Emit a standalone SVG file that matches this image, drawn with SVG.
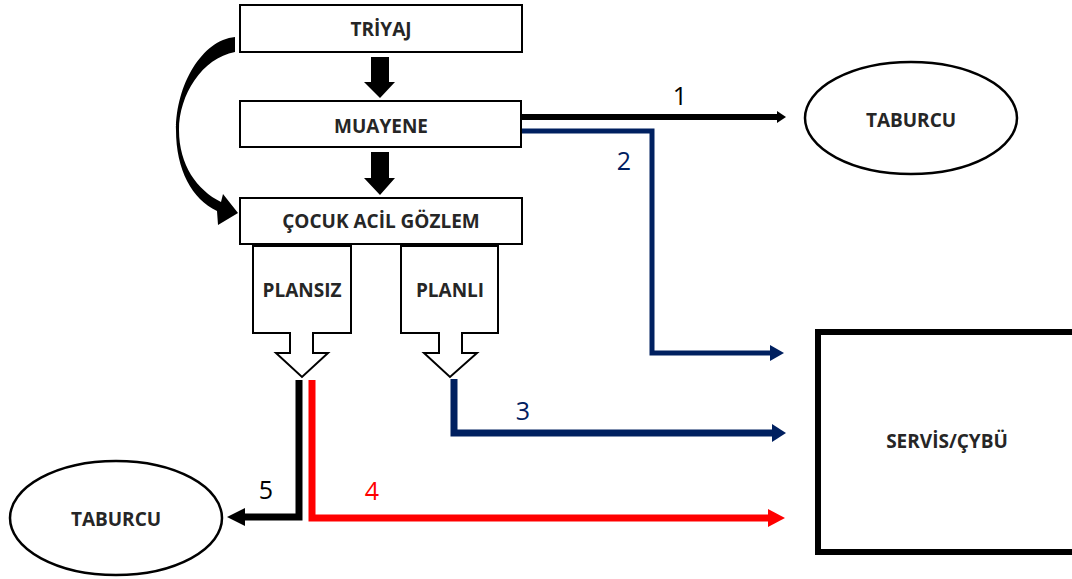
<svg xmlns="http://www.w3.org/2000/svg" width="1072" height="579" viewBox="0 0 1072 579">
  <style>
    .box { fill: #ffffff; stroke: #000000; stroke-width: 2; }
    .oval { fill: #ffffff; stroke: #000000; stroke-width: 2.5; }
    .label { font-family: "Open Sans", "Liberation Sans", sans-serif; font-weight: bold; font-size: 19px; fill: #262626; text-anchor: middle; }
    .num { font-family: "Open Sans", "Liberation Sans", sans-serif; font-size: 25px; text-anchor: middle; }
    .line { fill: none; stroke-linejoin: miter; }
  </style>
  <defs>
    <marker id="headBlack" markerUnits="userSpaceOnUse" markerWidth="20" markerHeight="20" refX="0" refY="9" orient="auto">
      <path d="M0,0 L18,9 L0,18 Z" fill="#000000"/>
    </marker>
    <marker id="headBlackSmall" markerUnits="userSpaceOnUse" markerWidth="12" markerHeight="14" refX="0" refY="6" orient="auto">
      <path d="M0,0 L9,6 L0,12 Z" fill="#000000"/>
    </marker>
    <marker id="headNavy" markerUnits="userSpaceOnUse" markerWidth="20" markerHeight="20" refX="0" refY="9" orient="auto">
      <path d="M0,0 L14,9 L0,18 Z" fill="#002060"/>
    </marker>
    <marker id="headNavySmall" markerUnits="userSpaceOnUse" markerWidth="20" markerHeight="20" refX="0" refY="8" orient="auto">
      <path d="M0,0 L14,8 L0,16 Z" fill="#002060"/>
    </marker>
    <marker id="headRed" markerUnits="userSpaceOnUse" markerWidth="20" markerHeight="20" refX="0" refY="9" orient="auto">
      <path d="M0,0 L17,9 L0,18 Z" fill="#ff0000"/>
    </marker>
  </defs>

  <!-- connectors -->
  <g id="connectors">
    <!-- block arrows down the main column -->
    <path d="M371,57 H389 V82 H395 L380,98 L364,82 H371 Z" fill="#000000"/>
    <path d="M371,152 H389 V178 H395 L380,195 L364,178 H371 Z" fill="#000000"/>
    <!-- curved bypass arrow from triage to observation -->
    <path d="M235,37 C202,40 176,85 176,130 C176,170 192,199 217,211 L218,225 L238,213 L223,194 L221,202 C197,190 179,165 179,130 C179,95 202,58 235,52 Z" fill="#000000"/>
    <!-- 1: examination to discharge -->
    <path class="line" d="M521,117 H777" stroke="#000000" stroke-width="6" marker-end="url(#headBlackSmall)"/>
    <!-- 2: examination to ward / PICU -->
    <path class="line" d="M521,131 H652 V353 H770" stroke="#002060" stroke-width="5" marker-end="url(#headNavySmall)"/>
    <!-- 3: planned observation to ward / PICU -->
    <path class="line" d="M454,379 V433 H772" stroke="#002060" stroke-width="7" marker-end="url(#headNavy)"/>
    <!-- 4: unplanned observation to ward / PICU -->
    <path class="line" d="M312,380 V518 H768" stroke="#ff0000" stroke-width="7" marker-end="url(#headRed)"/>
    <!-- 5: unplanned observation to discharge -->
    <path class="line" d="M299,380 V517 H245" stroke="#000000" stroke-width="7" marker-end="url(#headBlack)"/>
    <text class="num" x="680" y="105" fill="#000000">1</text>
    <text class="num" x="624" y="170" fill="#002060">2</text>
    <text class="num" x="523" y="420" fill="#002060">3</text>
    <text class="num" x="372" y="500" fill="#ff0000">4</text>
    <text class="num" x="266" y="499" fill="#000000">5</text>
  </g>

  <g id="triyaj">
    <rect class="box" x="240" y="5" width="282" height="47"/>
    <text class="label" x="381" y="36">TRİYAJ</text>
  </g>

  <g id="muayene">
    <rect class="box" x="240" y="101" width="281" height="46"/>
    <text class="label" x="381" y="133">MUAYENE</text>
  </g>

  <g id="gozlem">
    <rect class="box" x="240" y="198" width="282" height="46"/>
    <text class="label" x="381" y="228">ÇOCUK ACİL GÖZLEM</text>
  </g>

  <g id="plansiz">
    <path class="box" d="M253,246 H351 V333 H313 V353 H328 L302,377 L276,353 H290 V333 H253 Z"/>
    <text class="label" x="302" y="297">PLANSIZ</text>
  </g>

  <g id="planli">
    <path class="box" d="M401,246 H498 V333 H462 V353 H477 L450,377 L424,353 H439 V333 H401 Z"/>
    <text class="label" x="450" y="297">PLANLI</text>
  </g>

  <g id="taburcu-top">
    <ellipse class="oval" cx="911" cy="118" rx="106" ry="56"/>
    <text class="label" x="911" y="127">TABURCU</text>
  </g>

  <g id="taburcu-bottom">
    <ellipse class="oval" cx="116" cy="518" rx="106" ry="57"/>
    <text class="label" x="116" y="526">TABURCU</text>
  </g>

  <g id="servis">
    <rect x="818" y="332" width="262" height="220" fill="#ffffff" stroke="#000000" stroke-width="6"/>
    <text class="label" x="947" y="448">SERVİS/ÇYBÜ</text>
  </g>
</svg>
